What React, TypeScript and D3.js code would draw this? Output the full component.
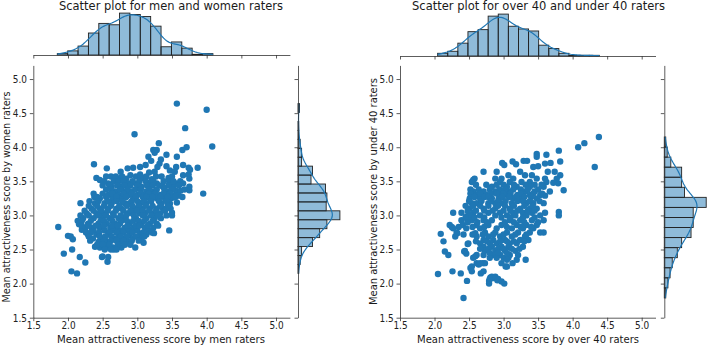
import React, { useEffect, useRef } from 'react';
import * as d3 from 'd3';

type Pt = [number, number];

const tickValues = [1.5, 2.0, 2.5, 3.0, 3.5, 4.0, 4.5, 5.0];
const axisDomain = [1.5, 5.2];

const titles = ['Scatter plot for men and women raters', 'Scatter plot for over 40 and under 40 raters'];
const xLabels = ['Mean attractiveness score by men raters', 'Mean attractiveness score by over 40 raters'];
const yLabels = ['Mean attractiveness score by women raters', 'Mean attractiveness score by under 40 raters'];

// x = men raters, y = women raters
const menWomenPoints: Pt[] = [
  [3.57, 4.64], [4.0, 4.55], [2.96, 4.19], [3.69, 4.28], [4.08, 4.01], [3.71, 4.0], [3.65, 3.96], [3.31, 4.06],
  [3.87, 3.7], [3.95, 3.32], [2.375, 3.75], [1.86, 2.83], [1.94, 2.44], [2.06, 2.5], [2.05, 2.18], [2.13, 2.15],
  [2.25, 2.31], [2.17, 2.39], [2.57, 2.32], [2.5, 2.4], [2.66, 2.5], [3.09, 2.6], [3.46, 2.78], [3.24, 2.74],
  [2.0, 2.7], [2.04, 2.69], [2.07, 2.65], [2.18, 3.18], [2.14, 2.92], [2.38, 3.27], [2.56, 3.69], [2.41, 3.55],
  [2.46, 3.52], [3.76, 3.67], [3.74, 3.7], [3.66, 3.74], [3.75, 3.54], [3.75, 3.42], [3.75, 3.37], [3.65, 3.27],
  [3.57, 3.19], [3.5, 3.04], [3.5, 3.0], [3.57, 3.86], [3.42, 3.89], [3.16, 3.86], [3.23, 3.96], [3.28, 3.96],
  [3.25, 3.92], [3.32, 3.76], [3.56, 3.71], [3.29, 3.71], [2.86, 3.69], [2.94, 3.7], [3.04, 3.71],
  [3.2, 3.8], [3.34, 3.82], [3.12, 3.74], [3.42, 3.72], [3.47, 3.66],
  [3.25, 3.64], [3.17, 3.63], [3.54, 3.64], [2.76, 3.64], [2.9, 3.59], [3.04, 3.6], [3.66, 3.59], [3.74, 3.6],
  [2.74, 3.54], [2.84, 3.54], [3.09, 3.55], [3.21, 3.53], [3.45, 3.55],
  [2.58, 3.47], [2.87, 3.47], [2.98, 3.47], [3.18, 3.48], [3.28, 3.47], [3.57, 3.47], [3.66, 3.47],
  [2.63, 3.42], [2.77, 3.42], [3.06, 3.42], [3.37, 3.42], [3.52, 3.43],
  [2.68, 3.35], [2.82, 3.35], [2.92, 3.35], [3.13, 3.35], [3.23, 3.35], [3.45, 3.35], [3.56, 3.36], [3.62, 3.36],
  [2.37, 3.32], [2.58, 3.3], [2.73, 3.3], [2.87, 3.3], [3.0, 3.3], [3.1, 3.3], [3.33, 3.3], [3.42, 3.3], [3.52, 3.29], [3.59, 3.29],
  [2.46, 3.25], [2.65, 3.25], [2.77, 3.25], [2.94, 3.25], [3.18, 3.25], [3.28, 3.25], [3.4, 3.25], [3.49, 3.25],
  [2.39, 3.18], [2.53, 3.18], [2.63, 3.18], [2.82, 3.18], [2.89, 3.18], [3.04, 3.18], [3.13, 3.18], [3.35, 3.18], [3.47, 3.17],
  [2.34, 3.1], [2.46, 3.1], [2.58, 3.1], [2.7, 3.1], [2.77, 3.1], [2.97, 3.1], [3.06, 3.1], [3.18, 3.1], [3.28, 3.1], [3.37, 3.1], [3.48, 3.1],
  [2.27, 3.03], [2.41, 3.03], [2.51, 3.03], [2.65, 3.03], [2.86, 3.03], [2.93, 3.03], [3.03, 3.03], [3.11, 3.03], [3.23, 3.03], [3.33, 3.03],
  [2.22, 2.96], [2.37, 2.96], [2.49, 2.96], [2.6, 2.96], [2.73, 2.96], [2.81, 2.96], [2.98, 2.96], [3.13, 2.96], [3.25, 2.96], [3.34, 2.96],
  [2.16, 2.87], [2.29, 2.88], [2.44, 2.88], [2.56, 2.88], [2.68, 2.88], [2.75, 2.88], [2.89, 2.88], [3.06, 2.88], [3.18, 2.88], [3.28, 2.88],
  [2.25, 2.82], [2.34, 2.82], [2.46, 2.82], [2.61, 2.82], [2.7, 2.82], [2.82, 2.82], [2.94, 2.82], [3.11, 2.82], [3.23, 2.82],
  [2.2, 2.79], [2.37, 2.78], [2.53, 2.78], [2.65, 2.78], [2.77, 2.78], [2.87, 2.78], [3.0, 2.78], [3.16, 2.78],
  [2.29, 2.72], [2.41, 2.72], [2.58, 2.72], [2.73, 2.72], [2.89, 2.72], [3.04, 2.72], [3.13, 2.72],
  [2.36, 2.66], [2.49, 2.66], [2.68, 2.66], [2.81, 2.66], [2.93, 2.66], [3.06, 2.66],
  [2.44, 2.61], [2.56, 2.61], [2.75, 2.61], [2.86, 2.61],
  [2.39, 2.54], [2.46, 2.53], [2.56, 2.53], [2.65, 2.53], [2.77, 2.53], [2.97, 2.53], [2.49, 2.39], [2.58, 2.39],
  [2.55, 3.57], [2.62, 3.57], [2.69, 3.57], [2.78, 3.57], [2.98, 3.57], [3.05, 3.57], [3.13, 3.57], [3.27, 3.57], [3.35, 3.57], [3.5, 3.57],
  [2.52, 3.5], [2.66, 3.5], [2.73, 3.5], [2.8, 3.5], [2.93, 3.5], [3.03, 3.5], [3.12, 3.5], [3.23, 3.5], [3.38, 3.5], [3.46, 3.5], [3.52, 3.5], [3.62, 3.5],
  [2.5, 3.44], [2.6, 3.44], [2.71, 3.44], [2.82, 3.44], [2.9, 3.44], [3.0, 3.44], [3.14, 3.44], [3.22, 3.44], [3.32, 3.44], [3.45, 3.44], [3.6, 3.44],
  [2.55, 3.38], [2.62, 3.38], [2.75, 3.38], [2.86, 3.38], [2.97, 3.38], [3.05, 3.38], [3.17, 3.38], [3.28, 3.38], [3.39, 3.38], [3.5, 3.38], [3.68, 3.38],
  [2.5, 3.32], [2.64, 3.32], [2.8, 3.32], [2.92, 3.32], [3.05, 3.32], [3.16, 3.32], [3.26, 3.32], [3.38, 3.32], [3.48, 3.32],
  [2.42, 3.27], [2.55, 3.27], [2.7, 3.27], [2.84, 3.27], [2.98, 3.27], [3.08, 3.27], [3.13, 3.27], [3.22, 3.27], [3.33, 3.27], [3.44, 3.27], [3.55, 3.27],
  [2.31, 3.21], [2.44, 3.21], [2.58, 3.21], [2.7, 3.21], [2.78, 3.21], [2.92, 3.21], [3.0, 3.21], [3.09, 3.21], [3.2, 3.21], [3.31, 3.21], [3.42, 3.21],
  [2.3, 3.14], [2.42, 3.14], [2.52, 3.14], [2.62, 3.14], [2.74, 3.14], [2.85, 3.14], [2.93, 3.14], [3.02, 3.14], [3.12, 3.14], [3.22, 3.14], [3.33, 3.14], [3.44, 3.14],
  [2.24, 3.07], [2.37, 3.07], [2.48, 3.07], [2.57, 3.07], [2.69, 3.07], [2.8, 3.07], [2.9, 3.07], [3.0, 3.07], [3.08, 3.07], [3.17, 3.07], [3.27, 3.07], [3.4, 3.07],
  [2.18, 3.0], [2.3, 3.0], [2.44, 3.0], [2.55, 3.0], [2.66, 3.0], [2.76, 3.0], [2.84, 3.0], [2.95, 3.0], [3.08, 3.0], [3.2, 3.0], [3.3, 3.0], [3.42, 3.0],
  [2.2, 2.92], [2.33, 2.92], [2.47, 2.92], [2.52, 2.92], [2.64, 2.92], [2.77, 2.92], [2.85, 2.92], [2.94, 2.92], [3.02, 2.92], [3.1, 2.92], [3.22, 2.92],
  [2.2, 2.85], [2.3, 2.85], [2.4, 2.85], [2.52, 2.85], [2.64, 2.85], [2.72, 2.85], [2.86, 2.85], [2.98, 2.85], [3.03, 2.85], [3.15, 2.85], [3.3, 2.85],
  [2.26, 2.75], [2.33, 2.75], [2.45, 2.75], [2.6, 2.75], [2.7, 2.75], [2.8, 2.75], [2.93, 2.75], [3.08, 2.75], [3.21, 2.75],
  [2.3, 2.69], [2.46, 2.69], [2.54, 2.69], [2.63, 2.69], [2.76, 2.69], [2.85, 2.69], [2.98, 2.69], [3.1, 2.69],
  [2.32, 2.63], [2.52, 2.63], [2.62, 2.63], [2.7, 2.63], [2.8, 2.63], [2.92, 2.63], [3.02, 2.63],
  [2.42, 2.57], [2.5, 2.57], [2.6, 2.57], [2.72, 2.57], [2.82, 2.57], [2.9, 2.57],
  [2.53, 2.5], [2.62, 2.5], [2.7, 2.5],
];

// x = over 40 raters, y = under 40 raters
const over40Under40Points: Pt[] = [
  [4.38, 4.15], [4.17, 4.06], [4.08, 4.0], [4.32, 3.71], [3.87, 3.37], [3.8, 3.95], [3.62, 3.89], [3.48, 3.9],
  [3.82, 3.79], [3.8, 3.05], [3.8, 3.0], [3.79, 3.47], [3.58, 2.75], [3.53, 2.75], [2.05, 2.14], [2.09, 2.73],
  [2.13, 2.62], [2.15, 2.47], [2.26, 2.18], [2.2, 2.42], [2.27, 3.04], [2.42, 1.79], [2.38, 2.15], [2.47, 2.04],
  [2.43, 2.47], [2.46, 2.44], [2.48, 2.58], [2.52, 2.23], [2.59, 2.4], [2.64, 2.28], [2.67, 2.15], [2.79, 2.0],
  [2.81, 2.09], [2.85, 2.08], [2.91, 2.05], [3.01, 2.0], [2.79, 2.04], [3.03, 2.25], [3.13, 2.3], [3.19, 2.35],
  [3.32, 2.35], [2.7, 2.3], [2.73, 2.3], [2.56, 3.52], [2.58, 3.54], [2.71, 3.64], [3.01, 3.74], [3.18, 3.75],
  [3.29, 3.8], [3.34, 3.8], [2.47, 2.99], [2.48, 2.92], [2.33, 2.74], [2.25, 2.83], [2.59, 2.74],
  [3.48, 3.86], [3.13, 3.79], [2.98, 3.77], [3.6, 3.76], [3.68, 3.77], [3.43, 3.71], [3.5, 3.72],
  [2.9, 3.64], [3.24, 3.64], [3.64, 3.64], [3.74, 3.64], [3.07, 3.59], [3.31, 3.59], [3.41, 3.59], [3.82, 3.59],
  [2.88, 3.54], [2.97, 3.54], [3.14, 3.54], [3.48, 3.54], [3.6, 3.54], [3.77, 3.54],
  [2.54, 3.49], [2.95, 3.49], [3.09, 3.49], [3.26, 3.49], [3.38, 3.49], [3.62, 3.49], [3.72, 3.48],
  [2.83, 3.42], [3.05, 3.42], [3.19, 3.42], [3.38, 3.42], [3.58, 3.42],
  [2.56, 3.35], [2.71, 3.35], [2.88, 3.35], [3.09, 3.35], [3.31, 3.35], [3.45, 3.35], [3.67, 3.35],
  [2.61, 3.3], [2.75, 3.3], [2.95, 3.3], [3.05, 3.3], [3.2, 3.3], [3.38, 3.3], [3.53, 3.3], [3.6, 3.29],
  [2.51, 3.25], [2.66, 3.25], [2.83, 3.25], [2.93, 3.25], [3.14, 3.25], [3.26, 3.25], [3.48, 3.25],
  [2.54, 3.18], [2.61, 3.18], [2.78, 3.18], [2.88, 3.18], [2.97, 3.18], [3.12, 3.18], [3.33, 3.18], [3.43, 3.18], [3.58, 3.18],
  [2.51, 3.1], [2.71, 3.1], [2.88, 3.1], [3.09, 3.1], [3.24, 3.1], [3.38, 3.1], [3.48, 3.1],
  [2.39, 3.04], [2.56, 3.04], [2.78, 3.04], [2.95, 3.04], [3.14, 3.04], [3.28, 3.04], [3.41, 3.04], [3.6, 3.04],
  [2.51, 3.0], [2.66, 3.0], [2.88, 3.0], [3.05, 3.0], [3.17, 3.0], [3.33, 3.0], [3.53, 3.0],
  [2.39, 2.93], [2.54, 2.93], [2.71, 2.93], [2.83, 2.93], [3.09, 2.93], [3.24, 2.93], [3.41, 2.93], [3.58, 2.93],
  [2.22, 2.86], [2.41, 2.86], [2.61, 2.86], [2.78, 2.86], [2.97, 2.86], [3.19, 2.86], [3.33, 2.86], [3.48, 2.86],
  [2.27, 2.81], [2.46, 2.81], [2.66, 2.81], [2.9, 2.81], [3.12, 2.81], [3.28, 2.81], [3.43, 2.81],
  [2.32, 2.75], [2.73, 2.75], [2.88, 2.75], [3.05, 2.75], [3.21, 2.75], [3.38, 2.75],
  [2.3, 2.69], [2.61, 2.69], [2.78, 2.69], [2.95, 2.69], [3.12, 2.69], [3.31, 2.69],
  [2.71, 2.64], [2.85, 2.64], [3.02, 2.64], [3.24, 2.64], [3.36, 2.64],
  [2.49, 2.59], [2.66, 2.59], [2.8, 2.59], [2.9, 2.59], [3.09, 2.59], [3.19, 2.59],
  [2.71, 2.54], [2.83, 2.54], [2.97, 2.54], [3.07, 2.54], [3.28, 2.54],
  [2.44, 2.48], [2.73, 2.48], [2.88, 2.48], [3.02, 2.48], [3.17, 2.48],
  [2.61, 2.42], [2.71, 2.42], [2.85, 2.42], [2.95, 2.42], [3.09, 2.42], [3.21, 2.42],
  [2.56, 2.38], [2.8, 2.38], [2.9, 2.38], [3.0, 2.38], [3.07, 2.38], [3.05, 2.35],
  [2.61, 2.3], [2.66, 2.3], [2.97, 2.3], [2.54, 2.25], [3.05, 2.25], [2.54, 2.18], [2.71, 2.18],
  [2.83, 2.1], [2.88, 2.1], [2.8, 2.07], [2.92, 2.07], [2.97, 2.03],
  [2.6, 3.45], [2.75, 3.45], [2.9, 3.45], [3.0, 3.45], [3.15, 3.45], [3.32, 3.45], [3.45, 3.45], [3.55, 3.45],
  [2.52, 3.38], [2.64, 3.38], [2.8, 3.38], [2.94, 3.38], [3.02, 3.38], [3.14, 3.38], [3.25, 3.38], [3.35, 3.38], [3.5, 3.38],
  [2.52, 3.32], [2.66, 3.32], [2.82, 3.32], [2.9, 3.32], [3.0, 3.32], [3.1, 3.32], [3.25, 3.32], [3.43, 3.32], [3.56, 3.32],
  [2.58, 3.27], [2.72, 3.27], [2.78, 3.27], [2.98, 3.27], [3.08, 3.27], [3.18, 3.27], [3.3, 3.27], [3.4, 3.27],
  [2.5, 3.21], [2.68, 3.21], [2.82, 3.21], [2.92, 3.21], [3.03, 3.21], [3.2, 3.21], [3.28, 3.21], [3.38, 3.21], [3.52, 3.21],
  [2.45, 3.14], [2.56, 3.14], [2.66, 3.14], [2.78, 3.14], [2.92, 3.14], [3.02, 3.14], [3.15, 3.14], [3.3, 3.14], [3.42, 3.14],
  [2.48, 3.07], [2.6, 3.07], [2.72, 3.07], [2.84, 3.07], [3.0, 3.07], [3.1, 3.07], [3.2, 3.07], [3.35, 3.07], [3.45, 3.07],
  [2.45, 2.97], [2.58, 2.97], [2.72, 2.97], [2.97, 2.97], [3.1, 2.97], [3.28, 2.97], [3.45, 2.97],
  [2.48, 2.9], [2.62, 2.9], [2.76, 2.9], [3.02, 2.9], [3.15, 2.9], [3.3, 2.9], [3.5, 2.9],
  [2.35, 2.83], [2.55, 2.83], [2.72, 2.83], [3.05, 2.83], [3.25, 2.83], [3.4, 2.83],
  [2.42, 2.72], [2.55, 2.72], [2.7, 2.72], [2.85, 2.72], [3.0, 2.72], [3.17, 2.72], [3.33, 2.72],
  [2.6, 2.62], [2.76, 2.62], [2.95, 2.62], [3.05, 2.62], [3.15, 2.62], [3.3, 2.62],
  [2.66, 2.51], [2.78, 2.51], [2.92, 2.51], [3.0, 2.51], [3.12, 2.51], [3.23, 2.51],
  [2.8, 2.45], [2.92, 2.45], [3.05, 2.45],
];

// marginal histogram counts, evenly binned over each range
const menHistRange = [1.846, 4.09];
const menHistCounts = [2, 6, 13, 32, 46, 44, 61, 59, 56, 42, 12, 19, 10, 1, 2];
const womenHistRange = [2.15, 4.64];
const womenHistCounts = [1, 3, 5, 20, 30, 40, 58, 39, 40, 38, 18, 20, 5, 5, 3, 1, 1, 0, 2];
const over40HistRange = [2.045, 4.386];
const over40HistCounts = [4, 7, 19, 36, 39, 59, 62, 44, 40, 37, 16, 11, 4, 1, 1, 1];
const under40HistRange = [1.79, 4.15];
const under40HistCounts = [2, 5, 8, 11, 18, 24, 37, 40, 40, 58, 28, 24, 24, 9, 4, 2];

const BLUE = '#1f77b4';
const FONT = 'DejaVu Sans, sans-serif';

// gaussian kde over the binned values, scaled to counts like seaborn
const kdeFromHist = (counts: number[], range: number[]) => {
  const w = (range[1] - range[0]) / counts.length;
  const centers = counts.map((_, i) => range[0] + w * (i + 0.5));
  const total = d3.sum(counts);
  const mean = d3.sum(counts, (c, i) => c * centers[i]) / total;
  const sd = Math.sqrt(d3.sum(counts, (c, i) => c * (centers[i] - mean) ** 2) / total);
  const bw = sd * Math.pow(total, -0.2);
  return d3.range(0, 121).map(k => {
    const v = range[0] + (range[1] - range[0]) * k / 120;
    const dens = d3.sum(counts, (c, i) => c * Math.exp(-0.5 * ((v - centers[i]) / bw) ** 2)) / (bw * Math.sqrt(2 * Math.PI));
    return [v, dens * w];
  });
};

const styleAxis = (g: any) => {
  g.style('color', '#333').attr('font-family', FONT).attr('font-size', 10.5);
  g.selectAll('path, line').attr('stroke-width', 0.8);
};

const drawPanel = (svg: any, p: any) => {
  const x = d3.scaleLinear().domain(axisDomain).range([p.left, p.right]);
  const y = d3.scaleLinear().domain(axisDomain).range([317.7, 65.4]);
  const MARG = 44;

  // top marginal histogram
  const wx = (p.xRange[1] - p.xRange[0]) / p.xHist.length;
  const xKde = kdeFromHist(p.xHist, p.xRange);
  const hy = d3.scaleLinear().domain([0, d3.max(p.xHist) * 1.05]).range([p.topBase, p.topBase - MARG]);
  svg.append('g').selectAll('rect').data(p.xHist).enter().append('rect')
    .attr('x', (d, i) => x(p.xRange[0] + i * wx))
    .attr('y', d => hy(d))
    .attr('width', x(p.xRange[0] + wx) - x(p.xRange[0]))
    .attr('height', d => p.topBase - hy(d))
    .attr('fill', BLUE).attr('fill-opacity', 0.5)
    .attr('stroke', '#222').attr('stroke-width', 0.9);
  svg.append('path').datum(xKde)
    .attr('d', d3.line().x(d => x(d[0])).y(d => hy(d[1])))
    .attr('fill', 'none').attr('stroke', BLUE).attr('stroke-width', 1.2);
  const gTop = svg.append('g').attr('transform', `translate(0,${p.topBase})`)
    .call(d3.axisBottom(x).tickValues(tickValues).tickFormat(() => '').tickSize(3.5).tickSizeOuter(0));
  styleAxis(gTop);

  // right marginal histogram
  const wy = (p.yRange[1] - p.yRange[0]) / p.yHist.length;
  const yKde = kdeFromHist(p.yHist, p.yRange);
  const hx = d3.scaleLinear().domain([0, d3.max(p.yHist) * 1.05]).range([p.margX, p.margX + MARG]);
  svg.append('g').selectAll('rect').data(p.yHist).enter().append('rect')
    .attr('x', p.margX)
    .attr('y', (d, i) => y(p.yRange[0] + (i + 1) * wy))
    .attr('width', d => hx(d) - p.margX)
    .attr('height', y(p.yRange[0]) - y(p.yRange[0] + wy))
    .attr('fill', BLUE).attr('fill-opacity', 0.5)
    .attr('stroke', '#222').attr('stroke-width', 0.9);
  svg.append('path').datum(yKde)
    .attr('d', d3.line().x(d => hx(d[1])).y(d => y(d[0])))
    .attr('fill', 'none').attr('stroke', BLUE).attr('stroke-width', 1.2);
  const gRight = svg.append('g').attr('transform', `translate(${p.margX},0)`)
    .call(d3.axisLeft(y).tickValues(tickValues).tickFormat(() => '').tickSize(3.5).tickSizeOuter(0));
  styleAxis(gRight);

  // scatter
  svg.append('g').selectAll('circle').data(p.points).enter().append('circle')
    .attr('cx', d => x(d[0]))
    .attr('cy', d => y(d[1]))
    .attr('r', 3.2)
    .attr('fill', BLUE);

  // main axes
  const fmt = d3.format('.1f');
  const gx = svg.append('g').attr('transform', 'translate(0,317.7)')
    .call(d3.axisBottom(x).tickValues(tickValues).tickFormat(fmt).tickSize(3.5).tickSizeOuter(0));
  styleAxis(gx);
  gx.selectAll('text').attr('dy', null).attr('y', 11.8).attr('transform', 'scale(0.85,1)').attr('fill', '#222');

  const gy = svg.append('g').attr('transform', `translate(${p.left},0)`)
    .call(d3.axisLeft(y).tickValues(tickValues).tickFormat(fmt).tickSize(3.5).tickSizeOuter(0));
  styleAxis(gy);
  gy.selectAll('text').attr('x', -7.4).attr('transform', 'scale(0.85,1)').attr('fill', '#222');

  // title and labels
  svg.append('text')
    .attr('x', p.titleX).attr('y', 9.8)
    .attr('text-anchor', 'middle')
    .attr('textLength', p.titleLen).attr('lengthAdjust', 'spacingAndGlyphs')
    .style('font-family', FONT).style('font-size', '11.5px').attr('fill', '#1a1a1a')
    .text(p.title);
  svg.append('text')
    .attr('x', p.xLabelX).attr('y', 342.5)
    .attr('text-anchor', 'middle')
    .attr('textLength', p.xLabelLen).attr('lengthAdjust', 'spacingAndGlyphs')
    .style('font-family', FONT).style('font-size', '11.3px').attr('fill', '#1a1a1a')
    .text(p.xLabel);
  svg.append('text')
    .attr('transform', `translate(${p.yLabelX},${p.yLabelY}) rotate(-90)`)
    .attr('text-anchor', 'middle')
    .attr('textLength', p.yLabelLen).attr('lengthAdjust', 'spacingAndGlyphs')
    .style('font-family', FONT).style('font-size', '11.3px').attr('fill', '#1a1a1a')
    .text(p.yLabel);
};

const App = () => {
  const svgRef = useRef(null);

  useEffect(() => {
    const svg = d3.select(svgRef.current);
    svg.selectAll('*').remove();
    svg.append('rect').attr('width', 709).attr('height', 347).attr('fill', '#fff');

    const panels = [
      {
        points: menWomenPoints, xHist: menHistCounts, xRange: menHistRange, yHist: womenHistCounts, yRange: womenHistRange,
        title: titles[0], xLabel: xLabels[0], yLabel: yLabels[0],
        left: 33.3, right: 289.9, topBase: 55, margX: 298,
        titleX: 171, titleLen: 224, xLabelX: 161, xLabelLen: 208, yLabelX: 9.8, yLabelY: 197, yLabelLen: 211,
      },
      {
        points: over40Under40Points, xHist: over40HistCounts, xRange: over40HistRange, yHist: under40HistCounts, yRange: under40HistRange,
        title: titles[1], xLabel: xLabels[1], yLabel: yLabels[1],
        left: 400, right: 655.5, topBase: 56, margX: 664.3,
        titleX: 538.5, titleLen: 253, xLabelX: 528, xLabelLen: 222, yLabelX: 376.8, yLabelY: 191.5, yLabelLen: 227,
      },
    ];
    panels.forEach(p => drawPanel(svg, p));
  }, []);

  return (
    <svg ref={svgRef} width={709} height={347} style={{ position: 'absolute', left: 0, top: 0, display: 'block' }}></svg>
  );
};

export default App;
